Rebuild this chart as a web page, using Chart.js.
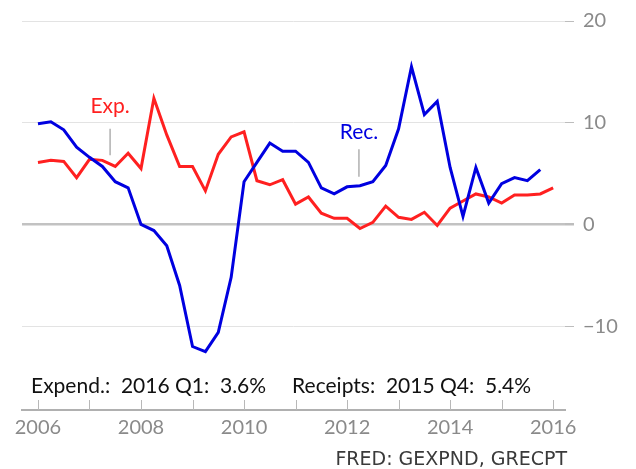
<!DOCTYPE html>
<html>
<head>
<meta charset="utf-8">
<script src="https://cdn.jsdelivr.net/npm/chart.js@4/dist/chart.umd.min.js"></script>
<style>
  html, body { margin: 0; padding: 0; background: #ffffff; }
  #wrap { width: 636px; height: 469px; }
</style>
</head>
<body>
<div id="wrap"><canvas id="chart" width="636" height="469"></canvas></div>
<script>
// Quarterly growth rates (percent, year over year) of government expenditures and receipts.
const quarters = [
  '2006 Q1', '2006 Q2', '2006 Q3', '2006 Q4',
  '2007 Q1', '2007 Q2', '2007 Q3', '2007 Q4',
  '2008 Q1', '2008 Q2', '2008 Q3', '2008 Q4',
  '2009 Q1', '2009 Q2', '2009 Q3', '2009 Q4',
  '2010 Q1', '2010 Q2', '2010 Q3', '2010 Q4',
  '2011 Q1', '2011 Q2', '2011 Q3', '2011 Q4',
  '2012 Q1', '2012 Q2', '2012 Q3', '2012 Q4',
  '2013 Q1', '2013 Q2', '2013 Q3', '2013 Q4',
  '2014 Q1', '2014 Q2', '2014 Q3', '2014 Q4',
  '2015 Q1', '2015 Q2', '2015 Q3', '2015 Q4',
  '2016 Q1'
];

const expenditures = [
  6.1, 6.3, 6.2, 4.6,
  6.4, 6.3, 5.7, 7.0,
  5.5, 12.4, 8.8, 5.7,
  5.7, 3.3, 6.9, 8.6,
  9.1, 4.3, 3.9, 4.4,
  2.0, 2.7, 1.1, 0.6,
  0.6, -0.4, 0.2, 1.8,
  0.7, 0.5, 1.2, -0.1,
  1.6, 2.3, 3.0, 2.7,
  2.1, 2.9, 2.9, 3.0,
  3.6
];

// Receipts are published through 2015 Q4.
const receipts = [
  9.9, 10.1, 9.3, 7.6,
  6.6, 5.7, 4.2, 3.6,
  0.0, -0.6, -2.1, -6.0,
  -12.0, -12.5, -10.6, -5.2,
  4.2, 6.1, 8.0, 7.2,
  7.2, 6.1, 3.6, 3.0,
  3.7, 3.8, 4.2, 5.8,
  9.4, 15.5, 10.8, 12.1,
  5.6, 0.8, 5.6, 2.1,
  4.0, 4.6, 4.3, 5.4
];

const yTicks = [-10, 0, 10, 20];
const yearTicks = [2006, 2007, 2008, 2009, 2010, 2011, 2012, 2013, 2014, 2015, 2016];
const yearLabels = [2006, 2008, 2010, 2012, 2014, 2016];

const RED = '#ff2020';
const BLUE = '#0000e0';
const GRAY_TEXT = '#8a8a8a';

// "2007 Q3" -> 2007.5
function quarterToYear(q) {
  const parts = q.split(' Q');
  return Number(parts[0]) + (Number(parts[1]) - 1) / 4;
}

function toPoints(values) {
  return values.map((v, i) => ({ x: quarterToYear(quarters[i]), y: v }));
}

function fmtSigned(v) {
  return v < 0 ? '\u2212' + Math.abs(v) : String(v);
}

// Series names with short leader lines, anchored in data coordinates.
const seriesNotes = {
  id: 'seriesNotes',
  afterDatasetsDraw(chart) {
    const { ctx, scales: { x, y } } = chart;
    const notes = [
      { text: 'Exp.', color: RED, at: 2007.40, textY: 11.6, from: 9.4, to: 6.8 },
      { text: 'Rec.', color: BLUE, at: 2012.23, textY: 9.1, from: 7.4, to: 4.7 }
    ];
    ctx.save();
    notes.forEach(n => {
      const px = x.getPixelForValue(n.at);
      ctx.strokeStyle = '#b0b0b0';
      ctx.lineWidth = 1.5;
      ctx.beginPath();
      ctx.moveTo(px, y.getPixelForValue(n.from));
      ctx.lineTo(px, y.getPixelForValue(n.to));
      ctx.stroke();
      ctx.fillStyle = n.color;
      ctx.font = '21px Lato';
      ctx.textAlign = 'center';
      ctx.textBaseline = 'middle';
      ctx.fillText(n.text, px, y.getPixelForValue(n.textY));
    });
    ctx.restore();
  }
};

// Year tick marks rising from the time axis, latest-value readout and source line.
const axisExtras = {
  id: 'axisExtras',
  afterDraw(chart) {
    const { ctx, chartArea, scales: { x } } = chart;
    ctx.save();
    ctx.strokeStyle = '#b8b8b8';
    ctx.lineWidth = 1;
    yearTicks.forEach(yr => {
      const px = Math.round(x.getPixelForValue(yr)) + 0.5;
      ctx.beginPath();
      ctx.moveTo(px, chartArea.bottom - 10);
      ctx.lineTo(px, chartArea.bottom);
      ctx.stroke();
    });

    const lastExp = expenditures.length - 1;
    const lastRec = receipts.length - 1;
    const left = 'Expend.:  ' + quarters[lastExp] + ':  ' + expenditures[lastExp].toFixed(1) + '%';
    const right = 'Receipts:  ' + quarters[lastRec] + ':  ' + receipts[lastRec].toFixed(1) + '%';
    ctx.fillStyle = '#111111';
    ctx.font = '21px Lato';
    ctx.textAlign = 'left';
    ctx.textBaseline = 'alphabetic';
    const tx = chartArea.left + 9;
    const ty = chartArea.bottom - 17;
    ctx.fillText(left, tx, ty);
    ctx.fillText(right, tx + ctx.measureText(left).width + 26, ty);

    ctx.fillStyle = '#3a3a3a';
    ctx.font = '19px "DejaVu Sans"';
    ctx.textAlign = 'right';
    ctx.fillText('FRED: GEXPND, GRECPT', chartArea.right + 2, chartArea.bottom + 55);
    ctx.restore();
  }
};

new Chart(document.getElementById('chart'), {
  type: 'line',
  data: {
    datasets: [
      {
        label: 'Rec.',
        data: toPoints(receipts),
        borderColor: BLUE,
        borderWidth: 3,
        pointRadius: 0,
        tension: 0,
        fill: false
      },
      {
        label: 'Exp.',
        data: toPoints(expenditures),
        borderColor: RED,
        borderWidth: 3,
        pointRadius: 0,
        tension: 0,
        fill: false
      }
    ]
  },
  options: {
    responsive: false,
    animation: false,
    layout: { padding: { left: 22, top: 20, right: 0, bottom: 0 } },
    plugins: {
      legend: { display: false },
      tooltip: { enabled: false }
    },
    scales: {
      x: {
        type: 'linear',
        min: 2005.69,
        max: 2016.23,
        afterBuildTicks: s => { s.ticks = yearLabels.map(v => ({ value: v })); },
        afterFit: s => { s.height = 59; },
        grid: { display: false, drawTicks: false },
        border: { display: true, color: '#b0b0b0', width: 2 },
        ticks: {
          color: GRAY_TEXT,
          font: { family: 'Lato', size: 20 },
          padding: 6,
          maxRotation: 0,
          autoSkip: false,
          callback: v => String(v)
        }
      },
      y: {
        position: 'right',
        min: -18.24,
        max: 20,
        afterBuildTicks: s => { s.ticks = yTicks.map(v => ({ value: v })); },
        afterFit: s => { s.width = 71; },
        border: { display: false },
        grid: {
          color: c => (c.tick && c.tick.value === 0 ? '#c2c2c2' : '#e3e3e3'),
          lineWidth: c => (c.tick && c.tick.value === 0 ? 2.5 : 1),
          tickColor: '#bdbdbd',
          tickLength: 9,
          drawTicks: true
        },
        ticks: {
          color: GRAY_TEXT,
          font: { family: 'Lato', size: 20 },
          padding: 9,
          callback: v => fmtSigned(v)
        }
      }
    }
  },
  plugins: [seriesNotes, axisExtras]
});
</script>
</body>
</html>
